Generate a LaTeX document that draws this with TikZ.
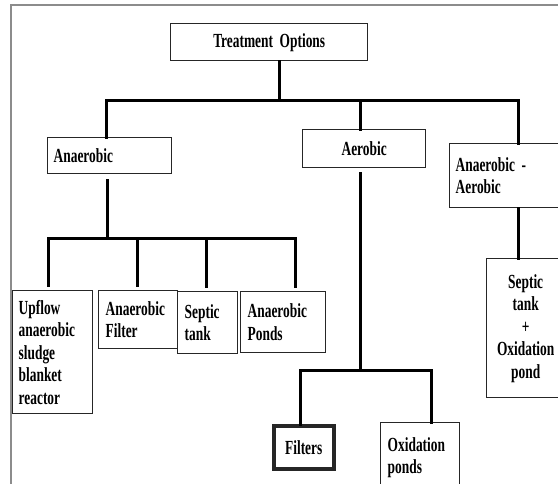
\documentclass[tikz,border=0pt]{standalone}
\usepackage{fontspec}
\newfontfamily\boxfont[FakeStretch=0.67]{Liberation Serif}
\tikzset{
  box/.style={draw=black!85, line width=1.4pt, anchor=north west, inner xsep=6pt, inner ysep=0pt,
    align=left, font=\boxfont\bfseries\fontsize{20}{22.5}\selectfont},
  link/.style={line width=3pt, line cap=rect},
  frame/.style={draw=black!45, line width=1.5pt}
}
\begin{document}
\begin{tikzpicture}[x=1pt,y=-1pt]
\useasboundingbox (0,0) rectangle (558,483);
\clip (0,0) rectangle (558,483);
\draw[frame] (11,490) -- (11,5) -- (570,5);
% boxes
\node[box, text width=185pt, align=center, minimum height=37pt] (top) at (170,23) {Treatment Options};
\node[box, text width=112pt, minimum height=36pt] (ana) at (47,137) {Anaerobic};
\node[box, text width=111pt, align=center, minimum height=38pt] (aer) at (302,129) {Aerobic};
\node[box, text width=104pt, minimum height=64pt] (mix) at (449,143) {Anaerobic -\\Aerobic};
\node[box, text width=68pt, minimum height=123pt] (up) at (12,290) {Upflow\\anaerobic\\sludge\\blanket\\reactor};
\node[box, text width=65pt, inner xsep=7pt, minimum height=58pt] (fil) at (98,290) {Anaerobic\\Filter};
\node[box, text width=46pt, inner xsep=7pt, minimum height=62pt] (sep) at (177,291) {Septic\\tank};
\node[box, text width=71pt, inner xsep=7pt, minimum height=61pt] (pon) at (240,291) {Anaerobic\\Ponds};
\node[box, line width=3.5pt, text width=48pt, align=center, minimum height=43pt] (filt) at (272,424) {Filters};
\node[box, text width=65pt, inner xsep=7pt, minimum height=70pt] (oxi) at (380,422) {Oxidation\\ponds};
\node[box, text width=66pt, align=center, minimum height=139pt] (combo) at (486,258) {Septic\\tank\\+\\Oxidation\\pond};
% first level
\coordinate (b1) at (106,100);
\coordinate (jt) at (279,100);
\coordinate (ja) at (360,100);
\coordinate (b3) at (518,100);
\draw[link] (b1) -- (b3);
\draw[link] (top.south -| jt) -- (jt);
\draw[link] (b1) -- (ana.north -| b1);
\draw[link] (ja) -- (aer.north -| ja);
\draw[link] (b3) -- (mix.north -| b3);
% anaerobic
\coordinate (j4) at (107,238);
\coordinate (b4) at (48,238);
\coordinate (b5) at (295,238);
\draw[link, shorten <=6pt] (ana.south -| j4) -- (j4);
\draw[link] (b4) -- (b5);
\foreach \n/\x in {up/48,fil/137,sep/206,pon/295}
  \draw[link, shorten >=5pt] (\x,238) -- (\n.north -| \x,238);
% aerobic
\coordinate (j5) at (360,370);
\coordinate (b6) at (300,370);
\coordinate (b7) at (431,370);
\draw[link, shorten <=5pt] (aer.south -| j5) -- (j5);
\draw[link] (b6) -- (b7);
\draw[link] (b6) -- (filt.north -| b6);
\draw[link] (b7) -- (oxi.north -| b7);
% anaerobic - aerobic
\draw[link] (mix.south -| b3) -- (combo.north -| b3);
\end{tikzpicture}
\end{document}
